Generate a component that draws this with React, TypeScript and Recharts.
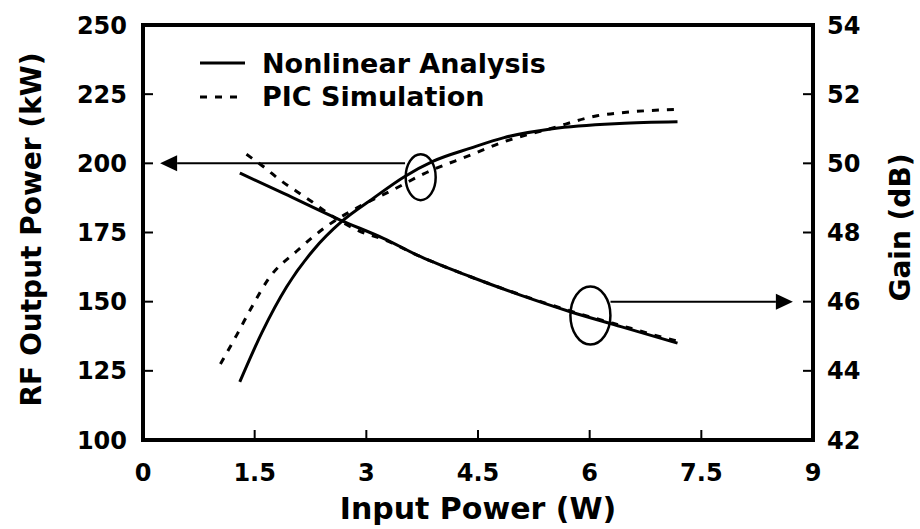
import {
  Label,
  Legend,
  Line,
  LineChart,
  ReferenceArea,
  ReferenceDot,
  ReferenceLine,
  XAxis,
  YAxis,
} from "recharts";

// [input power (W), value]
const nonlinearPower = [
  [1.3, 121], [1.6, 139], [1.93, 155.4], [2.29, 168.7], [2.67, 179],
  [3.1, 187.5], [3.5, 195], [3.9, 200.8], [4.4, 205.5], [4.85, 209.3],
  [5.5, 212.5], [6.4, 214.4], [7.18, 215],
];
const picPower = [
  [1.04, 127.5], [1.26, 138], [1.46, 148], [1.69, 158.4], [2.07, 168.4],
  [2.47, 177.3], [2.9, 184.3], [3.35, 190.3], [3.77, 196.2], [4.4, 203],
  [4.85, 207.8], [5.48, 212.6], [6.1, 217.2], [6.55, 218.6], [7.2, 219.5],
];
const nonlinearGain = [
  [1.3, 49.72], [1.89, 49.13], [2.65, 48.36], [3.23, 47.83], [3.73, 47.3],
  [4.4, 46.72], [5.07, 46.19], [5.74, 45.71], [6.42, 45.28], [7.18, 44.8],
];
const picGain = [
  [1.39, 50.26], [1.62, 49.9], [1.84, 49.52], [2.07, 49.18], [2.27, 48.89],
  [2.47, 48.58], [2.9, 48.05], [3.23, 47.8], [3.73, 47.3], [4.4, 46.72],
  [5.07, 46.2], [5.74, 45.73], [6.55, 45.23], [6.96, 44.98], [7.22, 44.84],
];

const xTicks = [0, 1.5, 3, 4.5, 6, 7.5, 9];
const powerTicks = [100, 125, 150, 175, 200, 225, 250];
const gainTicks = [42, 44, 46, 48, 50, 52, 54];

const toRows = (pts: number[][]) => pts.map(([x, y]) => ({ x, y }));

const FONT = "'DejaVu Sans', sans-serif";
const TICK_LEN = 10;
const DASH = "7 8";

const LeftTick = ({ x, y, payload }: any) => (
  <g>
    <line x1={x} x2={x + TICK_LEN} y1={y} y2={y} stroke="#000" strokeWidth={2} />
    <text x={x - 16} y={y} dy={8.5} textAnchor="end" fontFamily={FONT} fontWeight="bold" fontSize={24} fill="#000">
      {payload.value}
    </text>
  </g>
);

const RightTick = ({ x, y, payload }: any) => (
  <g>
    <line x1={x} x2={x - TICK_LEN} y1={y} y2={y} stroke="#000" strokeWidth={2} />
    <text x={x + 14} y={y} dy={8.5} textAnchor="start" fontFamily={FONT} fontWeight="bold" fontSize={24} fill="#000">
      {payload.value}
    </text>
  </g>
);

const BottomTick = ({ x, y, payload }: any) => (
  <g>
    <line x1={x} x2={x} y1={y} y2={y - TICK_LEN} stroke="#000" strokeWidth={2} />
    <text x={x} y={y + 41} textAnchor="middle" fontFamily={FONT} fontWeight="bold" fontSize={24} fill="#000">
      {payload.value}
    </text>
  </g>
);

const TopTick = ({ x, y }: any) => (
  <line x1={x} x2={x} y1={y} y2={y + TICK_LEN} stroke="#000" strokeWidth={2} />
);

const Arrow = (props: any) => {
  const { x1, y1, x2, y2 } = props;
  const dir = Math.sign(x2 - x1);
  const head = 17;
  const half = 8;
  return (
    <g>
      <line x1={x1} y1={y1} x2={x2 - dir * head} y2={y2} stroke="#000" strokeWidth={2} />
      <polygon
        points={`${x2},${y2} ${x2 - dir * head},${y2 - half} ${x2 - dir * head},${y2 + half}`}
        fill="#000"
      />
    </g>
  );
};

const ellipse = (rx: number, ry: number) => (p: any) => (
  <ellipse cx={p.cx} cy={p.cy} rx={rx} ry={ry} fill="none" stroke="#000" strokeWidth={2.5} />
);

const LegendBox = () => (
  <svg width={380} height={75} style={{ display: "block" }}>
    <line x1={5} x2={50} y1={23} y2={23} stroke="#000" strokeWidth={3} />
    <text x={67} y={33} fontFamily={FONT} fontWeight="bold" fontSize={27} fill="#000">
      Nonlinear Analysis
    </text>
    <line x1={5} x2={50} y1={57} y2={57} stroke="#000" strokeWidth={3} strokeDasharray={DASH} />
    <text x={67} y={66} fontFamily={FONT} fontWeight="bold" fontSize={27} fill="#000">
      PIC Simulation
    </text>
  </svg>
);

const axisTitle = { fontFamily: FONT, fontWeight: "bold", fill: "#000" } as const;

export default function App() {
  return (
    <div style={{ position: "absolute", left: 0, top: 0, background: "#fff" }}>
      <LineChart width={920} height={529} margin={{ top: 25, right: 0, left: 0, bottom: 0 }}>
        <XAxis
          dataKey="x"
          type="number"
          domain={[0, 9]}
          ticks={xTicks}
          height={89}
          tickSize={0}
          tickMargin={0}
          tickLine={false}
          axisLine={false}
          tick={<BottomTick />}
        >
          <Label
            content={({ viewBox }: any) => (
              <text x={viewBox.x + viewBox.width / 2} y={viewBox.y + 79} textAnchor="middle" fontSize={30} {...axisTitle}>
                Input Power (W)
              </text>
            )}
          />
        </XAxis>
        <XAxis
          xAxisId="top"
          orientation="top"
          dataKey="x"
          type="number"
          domain={[0, 9]}
          ticks={xTicks}
          height={0}
          tickSize={0}
          tickMargin={0}
          tickLine={false}
          axisLine={false}
          tick={<TopTick />}
        />
        <YAxis
          yAxisId="left"
          domain={[100, 250]}
          ticks={powerTicks}
          width={143}
          tickSize={0}
          tickMargin={0}
          tickLine={false}
          axisLine={false}
          tick={<LeftTick />}
        >
          <Label
            content={({ viewBox }: any) => {
              const cx = viewBox.x + 41;
              const cy = viewBox.y + viewBox.height / 2 - 3;
              return (
                <text x={cx} y={cy} textAnchor="middle" transform={`rotate(-90 ${cx} ${cy})`} fontSize={28} {...axisTitle}>
                  RF Output Power (kW)
                </text>
              );
            }}
          />
        </YAxis>
        <YAxis
          yAxisId="right"
          orientation="right"
          domain={[42, 54]}
          ticks={gainTicks}
          width={107}
          tickSize={0}
          tickMargin={0}
          tickLine={false}
          axisLine={false}
          tick={<RightTick />}
        >
          <Label
            content={({ viewBox }: any) => {
              const cx = viewBox.x + 97;
              const cy = viewBox.y + viewBox.height / 2 - 5;
              return (
                <text x={cx} y={cy} textAnchor="middle" transform={`rotate(-90 ${cx} ${cy})`} fontSize={28} {...axisTitle}>
                  Gain (dB)
                </text>
              );
            }}
          />
        </YAxis>

        <Line
          data={toRows(nonlinearPower)}
          dataKey="y"
          yAxisId="left"
          type="monotone"
          stroke="#000"
          strokeWidth={3}
          dot={false}
          isAnimationActive={false}
        />
        <Line
          data={toRows(picPower)}
          dataKey="y"
          yAxisId="left"
          type="monotone"
          stroke="#000"
          strokeWidth={3}
          strokeDasharray={DASH}
          dot={false}
          isAnimationActive={false}
        />
        <Line
          data={toRows(nonlinearGain)}
          dataKey="y"
          yAxisId="right"
          type="monotone"
          stroke="#000"
          strokeWidth={3}
          dot={false}
          isAnimationActive={false}
        />
        <Line
          data={toRows(picGain)}
          dataKey="y"
          yAxisId="right"
          type="monotone"
          stroke="#000"
          strokeWidth={3}
          strokeDasharray={DASH}
          dot={false}
          isAnimationActive={false}
        />

        <ReferenceLine
          yAxisId="left"
          segment={[{ x: 3.52, y: 200 }, { x: 0.23, y: 200 }]}
          shape={Arrow}
          ifOverflow="visible"
        />
        <ReferenceLine
          yAxisId="right"
          segment={[{ x: 6.28, y: 46 }, { x: 8.73, y: 46 }]}
          shape={Arrow}
          ifOverflow="visible"
        />
        <ReferenceDot yAxisId="left" x={3.73} y={195} shape={ellipse(15, 23)} ifOverflow="visible" />
        <ReferenceDot yAxisId="right" x={6.01} y={45.6} shape={ellipse(20, 29)} ifOverflow="visible" />

        <ReferenceArea
          yAxisId="left"
          x1={0}
          x2={9}
          y1={100}
          y2={250}
          fill="none"
          stroke="#000"
          strokeWidth={4}
          ifOverflow="visible"
        />

        <Legend
          layout="horizontal"
          verticalAlign="middle"
          align="center"
          wrapperStyle={{ position: "absolute", top: 40, left: 195, width: "auto", height: "auto" }}
          content={<LegendBox />}
        />
      </LineChart>
    </div>
  );
}
